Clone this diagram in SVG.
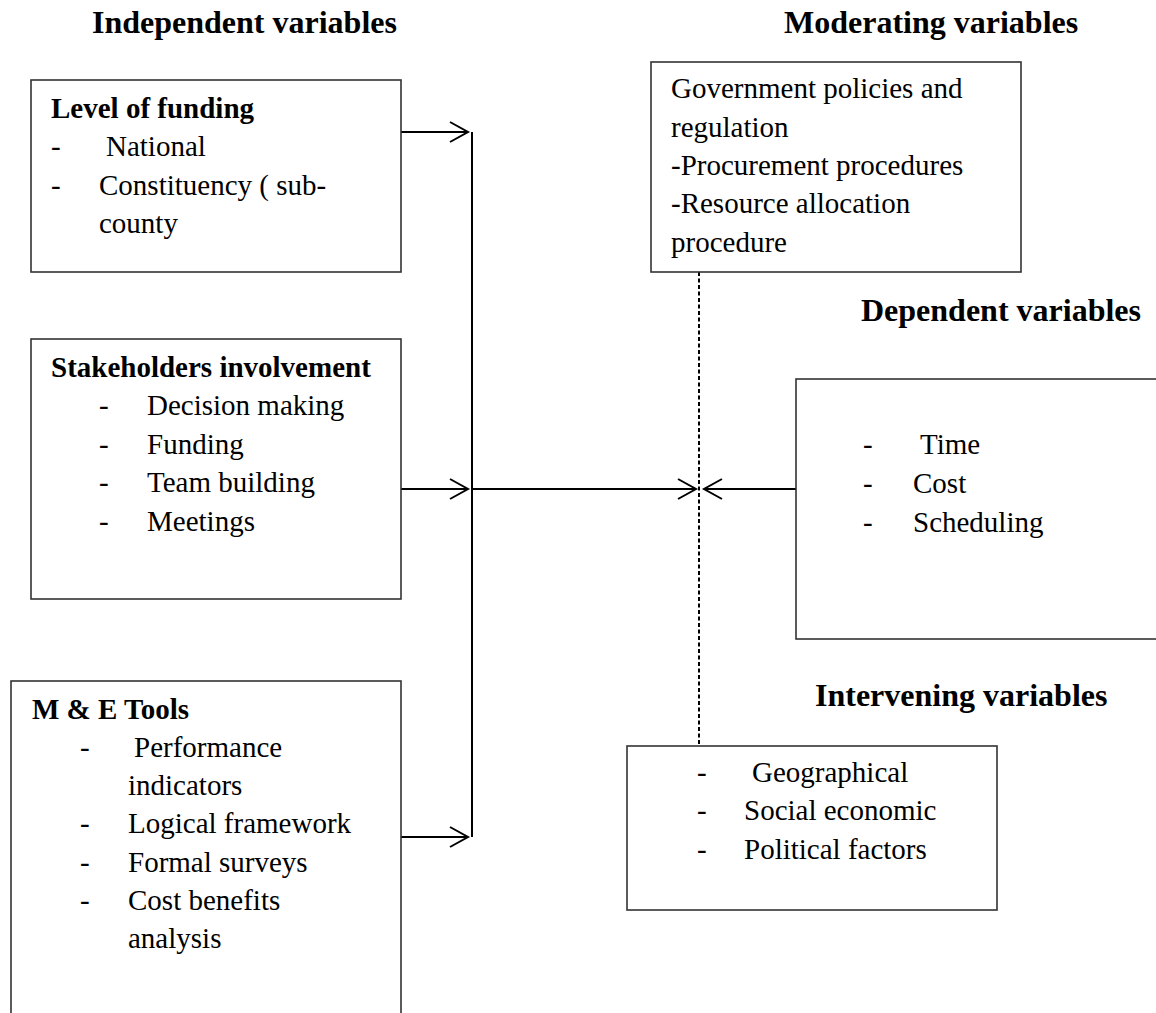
<svg xmlns="http://www.w3.org/2000/svg" width="1156" height="1013" viewBox="0 0 1156 1013">
<style>
text{font-family:"Liberation Serif","Times New Roman",serif;fill:#000}
.h{font-size:32px;font-weight:bold}
.b{font-size:29px;font-weight:bold}
.t{font-size:29px}
.box{fill:#fff;stroke:#333;stroke-width:1.6}
.c{stroke:#000;stroke-width:2;fill:none}
.d{stroke:#000;stroke-width:2;stroke-dasharray:4 2.5;fill:none}
</style>
<defs>
<marker id="arr" markerUnits="userSpaceOnUse" markerWidth="22" markerHeight="24" refX="18" refY="11" orient="auto" overflow="visible">
<path d="M0,1 L18,11 L0,21" fill="none" stroke="#000" stroke-width="2"/>
</marker>
</defs>
<rect width="1156" height="1013" fill="#fff"/>
<text class="h" x="92" y="33">Independent variables</text>
<text class="h" x="784" y="33">Moderating variables</text>
<text class="h" x="861" y="321">Dependent variables</text>
<text class="h" x="815" y="706">Intervening variables</text>

<g id="connectors">
<line class="c" x1="401" y1="132" x2="468" y2="132" marker-end="url(#arr)"/>
<line class="c" x1="401" y1="489" x2="468" y2="489" marker-end="url(#arr)"/>
<line class="c" x1="401" y1="837" x2="468" y2="837" marker-end="url(#arr)"/>
<line class="c" x1="472" y1="132" x2="472" y2="837"/>
<line class="c" x1="472" y1="489" x2="696" y2="489" marker-end="url(#arr)"/>
<line class="c" x1="796" y1="489" x2="704" y2="489" marker-end="url(#arr)"/>
<line class="d" x1="699" y1="272" x2="699" y2="746"/>
</g>

<g id="level-of-funding">
<rect class="box" x="31" y="80" width="370" height="192"/>
<text class="b" x="51" y="118">Level of funding</text>
<text class="t" x="51" y="156">-</text><text class="t" x="106" y="156">National</text>
<text class="t" x="51" y="195">-</text><text class="t" x="99" y="195">Constituency ( sub-</text>
<text class="t" x="99" y="233">county</text>
</g>

<g id="stakeholders">
<rect class="box" x="31" y="339" width="370" height="260"/>
<text class="b" x="51" y="377">Stakeholders involvement</text>
<text class="t" x="99" y="415">-</text><text class="t" x="147" y="415">Decision making</text>
<text class="t" x="99" y="454">-</text><text class="t" x="147" y="454">Funding</text>
<text class="t" x="99" y="492">-</text><text class="t" x="147" y="492">Team building</text>
<text class="t" x="99" y="531">-</text><text class="t" x="147" y="531">Meetings</text>
</g>

<g id="me-tools">
<rect class="box" x="11" y="681" width="390" height="340"/>
<text class="b" x="32" y="719">M &amp; E Tools</text>
<text class="t" x="80" y="757">-</text><text class="t" x="134" y="757">Performance</text>
<text class="t" x="128" y="795">indicators</text>
<text class="t" x="80" y="833">-</text><text class="t" x="128" y="833">Logical framework</text>
<text class="t" x="80" y="872">-</text><text class="t" x="128" y="872">Formal surveys</text>
<text class="t" x="80" y="910">-</text><text class="t" x="128" y="910">Cost benefits</text>
<text class="t" x="128" y="948">analysis</text>
</g>

<g id="moderating">
<rect class="box" x="651" y="62" width="370" height="210"/>
<text class="t" x="671" y="98">Government policies and</text>
<text class="t" x="671" y="137">regulation</text>
<text class="t" x="671" y="175">-Procurement procedures</text>
<text class="t" x="671" y="213">-Resource allocation</text>
<text class="t" x="671" y="252">procedure</text>
</g>

<g id="dependent">
<rect class="box" x="796" y="379" width="370" height="260"/>
<text class="t" x="863" y="454">-</text><text class="t" x="920" y="454">Time</text>
<text class="t" x="863" y="493">-</text><text class="t" x="913" y="493">Cost</text>
<text class="t" x="863" y="532">-</text><text class="t" x="913" y="532">Scheduling</text>
</g>

<g id="intervening">
<rect class="box" x="627" y="746" width="370" height="164"/>
<text class="t" x="697" y="782">-</text><text class="t" x="752" y="782">Geographical</text>
<text class="t" x="697" y="820">-</text><text class="t" x="744" y="820">Social economic</text>
<text class="t" x="697" y="859">-</text><text class="t" x="744" y="859">Political factors</text>
</g>
</svg>
